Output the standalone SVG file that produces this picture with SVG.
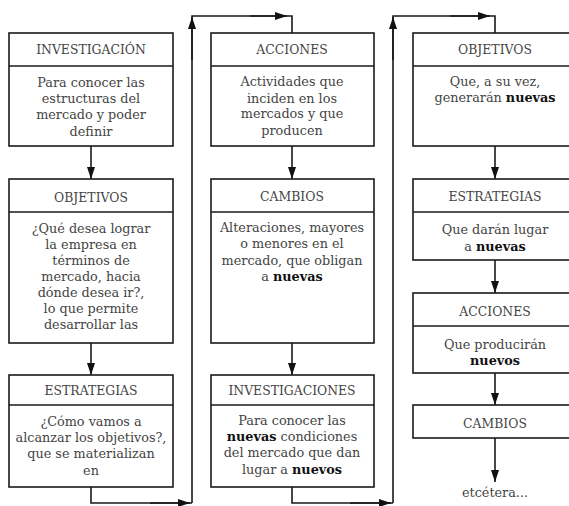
<svg xmlns="http://www.w3.org/2000/svg" width="569" height="506" viewBox="0 0 569 506">
<defs>
<style>
.box{fill:#fff;stroke:#1a1a1a;stroke-width:1.6}
.sep{stroke:#1a1a1a;stroke-width:1.6}
.hd{font-family:"DejaVu Serif","Liberation Serif",serif;font-size:12.4px;fill:#444;text-anchor:middle}
.tx{font-family:"DejaVu Serif","Liberation Serif",serif;font-size:12.8px;fill:#444;text-anchor:middle}
.b{font-weight:bold;fill:#111}
.c{fill:none;stroke:#1a1a1a;stroke-width:1.6}
</style>
<marker id="ah" markerWidth="12" markerHeight="8" refX="12" refY="4" orient="auto" markerUnits="userSpaceOnUse">
<path d="M0,0 L12,4 L0,8 Z" fill="#111"/>
</marker>
</defs>
<rect width="569" height="506" fill="#fff"/>

<g id="connectors">
<line class="c" x1="91" y1="146" x2="91" y2="179" marker-end="url(#ah)"/>
<line class="c" x1="91" y1="343" x2="91" y2="375" marker-end="url(#ah)"/>
<polyline class="c" points="91,487 91,503 192,503"/>
<line class="c" x1="150" y1="503" x2="190" y2="503" marker-end="url(#ah)"/>
<polyline class="c" points="192,503 192,16 292,16 292,33"/>
<line class="c" x1="192" y1="60" x2="192" y2="17" marker-end="url(#ah)"/>
<line class="c" x1="250" y1="16" x2="287" y2="16" marker-end="url(#ah)"/>
<line class="c" x1="292" y1="146" x2="292" y2="179" marker-end="url(#ah)"/>
<line class="c" x1="292" y1="343" x2="292" y2="375" marker-end="url(#ah)"/>
<polyline class="c" points="292,487 292,503 393,503"/>
<line class="c" x1="350" y1="503" x2="391" y2="503" marker-end="url(#ah)"/>
<polyline class="c" points="393,503 393,16 495,16 495,33"/>
<line class="c" x1="393" y1="60" x2="393" y2="17" marker-end="url(#ah)"/>
<line class="c" x1="450" y1="16" x2="490" y2="16" marker-end="url(#ah)"/>
<line class="c" x1="495" y1="146" x2="495" y2="179" marker-end="url(#ah)"/>
<line class="c" x1="495" y1="260" x2="495" y2="293" marker-end="url(#ah)"/>
<line class="c" x1="495" y1="373" x2="495" y2="405" marker-end="url(#ah)"/>
<line class="c" x1="495" y1="438" x2="495" y2="482" marker-end="url(#ah)"/>
</g>

<g id="investigacion">
<rect class="box" x="9" y="33" width="164" height="113"/>
<line class="sep" x1="9" y1="66" x2="173" y2="66"/>
<text class="hd" x="91" y="54">INVESTIGACIÓN</text>
<text class="tx" x="91" y="87">Para conocer las</text>
<text class="tx" x="91" y="103">estructuras del</text>
<text class="tx" x="91" y="119">mercado y poder</text>
<text class="tx" x="91" y="136">definir</text>
</g>

<g id="objetivos1">
<rect class="box" x="9" y="179" width="164" height="164"/>
<line class="sep" x1="9" y1="212" x2="173" y2="212"/>
<text class="hd" x="91" y="202">OBJETIVOS</text>
<text class="tx" x="91" y="233">¿Qué desea lograr</text>
<text class="tx" x="91" y="249">la empresa en</text>
<text class="tx" x="91" y="265">términos de</text>
<text class="tx" x="91" y="281">mercado, hacia</text>
<text class="tx" x="91" y="297">dónde desea ir?,</text>
<text class="tx" x="91" y="313">lo que permite</text>
<text class="tx" x="91" y="329">desarrollar las</text>
</g>

<g id="estrategias1">
<rect class="box" x="9" y="375" width="164" height="112"/>
<line class="sep" x1="9" y1="405" x2="173" y2="405"/>
<text class="hd" x="91" y="395">ESTRATEGIAS</text>
<text class="tx" x="91" y="426">¿Cómo vamos a</text>
<text class="tx" x="91" y="442">alcanzar los objetivos?,</text>
<text class="tx" x="91" y="458">que se materializan</text>
<text class="tx" x="91" y="475">en</text>
</g>

<g id="acciones2">
<rect class="box" x="211" y="33" width="163" height="113"/>
<line class="sep" x1="211" y1="66" x2="374" y2="66"/>
<text class="hd" x="292" y="54">ACCIONES</text>
<text class="tx" x="292" y="86">Actividades que</text>
<text class="tx" x="292" y="103">inciden en los</text>
<text class="tx" x="292" y="118">mercados y que</text>
<text class="tx" x="292" y="135">producen</text>
</g>

<g id="cambios2">
<rect class="box" x="211" y="179" width="163" height="164"/>
<line class="sep" x1="211" y1="212" x2="374" y2="212"/>
<text class="hd" x="292" y="201">CAMBIOS</text>
<text class="tx" x="292" y="232">Alteraciones, mayores</text>
<text class="tx" x="292" y="248">o menores en el</text>
<text class="tx" x="292" y="265">mercado, que obligan</text>
<text class="tx" x="292" y="281">a <tspan class="b">nuevas</tspan></text>
</g>

<g id="investigaciones2">
<rect class="box" x="211" y="375" width="163" height="112"/>
<line class="sep" x1="211" y1="405" x2="374" y2="405"/>
<text class="hd" x="292" y="395">INVESTIGACIONES</text>
<text class="tx" x="292" y="425">Para conocer las</text>
<text class="tx" x="292" y="441"><tspan class="b">nuevas</tspan> condiciones</text>
<text class="tx" x="292" y="457">del mercado que dan</text>
<text class="tx" x="292" y="474">lugar a <tspan class="b">nuevos</tspan></text>
</g>

<g id="objetivos3">
<rect class="box" x="413" y="33" width="164" height="113"/>
<line class="sep" x1="413" y1="66" x2="577" y2="66"/>
<text class="hd" x="495" y="54">OBJETIVOS</text>
<text class="tx" x="495" y="86">Que, a su vez,</text>
<text class="tx" x="495" y="102">generarán <tspan class="b">nuevas</tspan></text>
</g>

<g id="estrategias3">
<rect class="box" x="413" y="179" width="164" height="81"/>
<line class="sep" x1="413" y1="212" x2="577" y2="212"/>
<text class="hd" x="495" y="201">ESTRATEGIAS</text>
<text class="tx" x="495" y="234">Que darán lugar</text>
<text class="tx" x="495" y="251">a <tspan class="b">nuevas</tspan></text>
</g>

<g id="acciones3">
<rect class="box" x="413" y="293" width="164" height="80"/>
<line class="sep" x1="413" y1="326" x2="577" y2="326"/>
<text class="hd" x="495" y="316">ACCIONES</text>
<text class="tx" x="495" y="349">Que producirán</text>
<text class="tx" x="495" y="365"><tspan class="b">nuevos</tspan></text>
</g>

<g id="cambios3">
<rect class="box" x="413" y="405" width="164" height="33"/>
<text class="hd" x="495" y="428">CAMBIOS</text>
</g>

<g id="etcetera">
<text class="tx" x="495" y="497">etcétera...</text>
</g>
</svg>
